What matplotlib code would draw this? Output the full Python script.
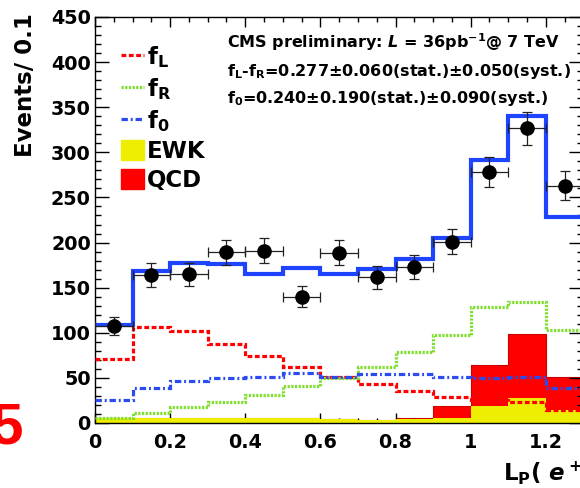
import numpy as np
import matplotlib
matplotlib.use("Agg")
import matplotlib.pyplot as plt
from matplotlib.lines import Line2D
from matplotlib.patches import Patch

# Bin edges of L_P(e+) (width 0.1)
bin_edges = [0.0, 0.1, 0.2, 0.3, 0.4, 0.5, 0.6, 0.7, 0.8, 0.9, 1.0, 1.1, 1.2, 1.3]
bin_centers = [0.05, 0.15, 0.25, 0.35, 0.45, 0.55, 0.65, 0.75, 0.85, 0.95, 1.05, 1.15, 1.25]

# Data points
data_vals = [107.5, 164, 164.8, 189, 190.7, 140, 188.8, 161.5, 173, 201, 278.6, 326.7, 263]
data_err = [10.5, 12.8, 12.8, 13.7, 13.8, 11.8, 13.7, 12.7, 13.2, 14.2, 16.7, 18.1, 16.2]

# Fit components
total_fit = [108.6, 168.8, 177, 176, 165, 171.5, 164.8, 171, 181.8, 205, 291.6, 340.7, 228.7]
f_L = [70.6, 106.8, 102.4, 87.6, 74.3, 62.4, 51.4, 42.9, 35.5, 28.5, 25, 22.9, 14.4]
f_R = [5.2, 10.7, 17.4, 23.6, 31.5, 41.2, 49.5, 62.4, 79, 97.6, 128.3, 134, 103.5]
f_0 = [25.5, 38.5, 46.2, 50.2, 51.3, 55, 51.3, 54, 53.8, 51.3, 50.2, 51.3, 39.2]

# Backgrounds (stacked: EWK at the bottom, QCD on top)
ewk = [6, 6, 6, 6, 5.8, 5.2, 4.1, 3.4, 4, 5.2, 18.6, 27.4, 14.5]
qcd = [0, 0, 0, 0, 0, 0, 0, 0, 1.2, 13.6, 45.7, 70.9, 36.8]

xtick_vals = [0, 0.2, 0.4, 0.6, 0.8, 1.0, 1.2]
xtick_labels = ["0", "0.2", "0.4", "0.6", "0.8", "1", "1.2"]
ytick_vals = [0, 50, 100, 150, 200, 250, 300, 350, 400, 450]

plt.rcParams['font.family'] = ['DejaVu Sans']
plt.rcParams['font.weight'] = 'bold'
plt.rcParams['mathtext.fontset'] = 'dejavusans'
plt.rcParams['mathtext.default'] = 'bf'

W, H = 580, 488
fig = plt.figure(figsize=(W / 100, H / 100), dpi=100)
# axes run a bit past the right edge of the picture (cropped like the original)
ax = fig.add_axes([95 / W, (H - 423) / H, 488.4 / W, 406 / H])

red = '#ff0000'
yellow = '#eeee00'
green = '#7fdf2f'
blue_fit = '#1f44ff'
blue_f0 = '#2a4bef'

# stacked backgrounds
stack_top = np.array(ewk) + np.array(qcd)
ax.stairs(stack_top, bin_edges, fill=True, color=red, zorder=1)
ax.stairs(stack_top, bin_edges, color='#cc0000', linewidth=0.8, baseline=None, zorder=1.1)
ax.stairs(ewk, bin_edges, fill=True, color=yellow, zorder=2)

# fit components
ax.stairs(f_L, bin_edges, baseline=None, color=red, linewidth=2.3,
          linestyle=(0, (1.5, 0.8)), zorder=3)
ax.stairs(f_R, bin_edges, baseline=None, color=green, linewidth=2.3,
          linestyle=(0, (0.7, 0.45)), zorder=3)
ax.stairs(f_0, bin_edges, baseline=None, color=blue_f0, linewidth=2.3,
          linestyle=(0, (2.0, 0.9, 0.6, 0.9)), zorder=3)
ax.stairs(total_fit, bin_edges, baseline=None, color=blue_fit, linewidth=3.0, zorder=4)

# data
ax.errorbar(bin_centers, data_vals, yerr=data_err, xerr=0.05, fmt='o', color='black',
            ecolor='#222222', elinewidth=0.9, capsize=3.5, capthick=0.9,
            markersize=9.5, zorder=5)

ax.set_xlim(0, 1.3)
ax.set_ylim(0, 450)
ax.set_xticks(xtick_vals)
ax.set_xticklabels(xtick_labels)
ax.set_xticks(np.arange(0, 1.31, 0.05), minor=True)
ax.set_yticks(ytick_vals)
ax.set_yticks(np.arange(0, 451, 10), minor=True)
ax.tick_params(which='both', direction='in', top=True, right=True, width=1.0)
ax.tick_params(axis='x', which='major', length=7.5, labelsize=13.8, pad=7)
ax.tick_params(axis='x', which='minor', length=3.5)
ax.tick_params(axis='y', which='major', length=10, labelsize=13.8, pad=3)
ax.tick_params(axis='y', which='minor', length=4.5)
for lab in ax.get_xticklabels() + ax.get_yticklabels():
    lab.set_fontweight('bold')
for sp in ax.spines.values():
    sp.set_linewidth(1.0)

# axis titles
fig.text(26 / W, 1 - 13 / H, 'Events/ 0.1', rotation=90, ha='center', va='top',
         fontsize=16.5, fontweight='bold')
fig.text(503 / W, 1 - 473 / H, r'L$_P$( $\mathit{e}^+$)', ha='left', va='center',
         fontsize=16.5, fontweight='bold')

# header text
fig.text(227 / W, 1 - 41.7 / H, r'CMS preliminary: $\mathit{L}$ = 36pb$^{-1}$@ 7 TeV',
         ha='left', va='center', fontsize=11.5, fontweight='bold')
fig.text(227 / W, 1 - 71.7 / H, r'f$_L$-f$_R$=0.277±0.060(stat.)±0.050(syst.)',
         ha='left', va='center', fontsize=11.5, fontweight='bold')
fig.text(227 / W, 1 - 99 / H, r'f$_0$=0.240±0.190(stat.)±0.090(syst.)',
         ha='left', va='center', fontsize=11.5, fontweight='bold')

# legend
handles = [
    Line2D([], [], color=red, linewidth=2.3, linestyle=(0, (1.5, 0.8))),
    Line2D([], [], color=green, linewidth=2.3, linestyle=(0, (0.7, 0.45))),
    Line2D([], [], color=blue_f0, linewidth=2.3, linestyle=(0, (2.0, 0.9, 0.6, 0.9))),
    Patch(facecolor=yellow, edgecolor=yellow),
    Patch(facecolor=red, edgecolor=red),
]
labels = [r'f$_L$', r'f$_R$', r'f$_0$', 'EWK', 'QCD']
leg = ax.legend(handles, labels, loc='upper left', bbox_to_anchor=(121 / W, 1 - 44 / H),
                bbox_transform=fig.transFigure, frameon=False, borderpad=0,
                borderaxespad=0, handlelength=1.0, handleheight=1.0,
                handletextpad=0.15, labelspacing=0.26,
                prop={'size': 16.5, 'weight': 'bold'})

# cut-off label from the neighbouring panel
fig.text(23 / W, 1 - 444 / H, '5', color='red', ha='right', va='baseline',
         fontsize=42, family='Liberation Sans')

fig.savefig('out.png', dpi=100)
